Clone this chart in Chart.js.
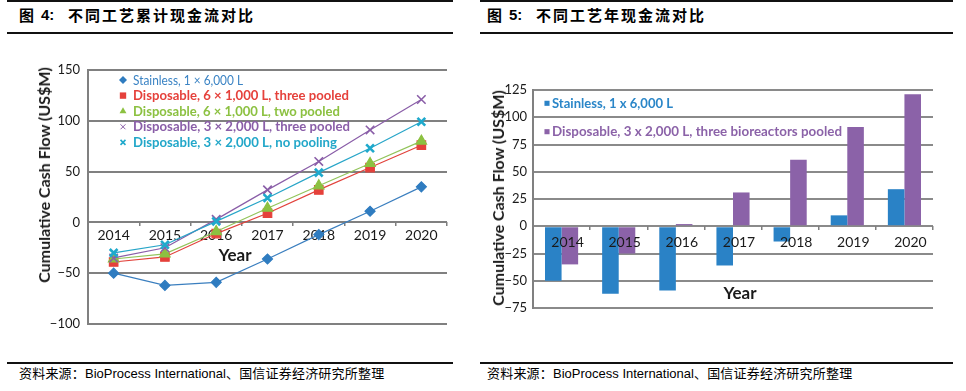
<!DOCTYPE html>
<html><head><meta charset="utf-8">
<script src="https://cdn.jsdelivr.net/npm/chart.js@4.4.0/dist/chart.umd.min.js"></script>
<style>
html,body{margin:0;padding:0;background:#fff;}
body{width:966px;height:391px;position:relative;overflow:hidden;}
.hl{position:absolute;background:#111;}
.t{position:absolute;font-family:"Noto Sans CJK SC",sans-serif;font-weight:700;font-size:15px;color:#000;white-space:nowrap;line-height:20px;}
.tn{position:absolute;font-family:"Liberation Sans",Arial,sans-serif;font-weight:700;font-size:15px;color:#000;white-space:nowrap;line-height:20px;}
.src{position:absolute;font-family:"Noto Sans CJK SC",sans-serif;font-size:13px;letter-spacing:0.2px;color:#000;white-space:nowrap;line-height:16px;}
.src span{font-family:"Liberation Sans",Arial,sans-serif;letter-spacing:0;}
canvas{position:absolute;}
.yt{position:absolute;font-family:Lato,sans-serif;font-weight:700;font-size:16px;color:#1a1a1a;white-space:nowrap;transform:translate(-50%,-50%) rotate(-90deg);line-height:18px;}
.xt{position:absolute;font-family:Lato,sans-serif;font-weight:700;font-size:17px;color:#1a1a1a;white-space:nowrap;transform:translate(-50%,-50%);line-height:20px;}
</style>
</head><body>
<div class="hl" style="left:7px;top:0;width:446px;height:2px"></div>
<div class="hl" style="left:7px;top:32px;width:446px;height:2px"></div>
<div class="hl" style="left:480px;top:0;width:473px;height:2px"></div>
<div class="hl" style="left:480px;top:32px;width:473px;height:2px"></div>
<div class="t" style="left:19px;top:5px">图</div>
<div class="tn" style="left:41px;top:5px">4:</div>
<div class="t" style="left:68px;top:5px;letter-spacing:2px">不同工艺累计现金流对比</div>
<div class="t" style="left:487px;top:5px">图</div>
<div class="tn" style="left:509px;top:5px">5:</div>
<div class="t" style="left:536px;top:5px;letter-spacing:2px">不同工艺年现金流对比</div>

<canvas id="c1" width="470" height="310" style="left:0;top:40px;width:470px;height:310px"></canvas>
<canvas id="c2" width="486" height="310" style="left:480px;top:40px;width:486px;height:310px"></canvas>

<div class="yt" style="left:44px;top:175px">Cumulative Cash Flow (US$M)</div>
<div class="xt" style="left:235px;top:255px">Year</div>
<div class="yt" style="left:498px;top:198px">Cumulative Cash Flow (US$M)</div>
<div class="xt" style="left:740px;top:293px">Year</div>

<div class="hl" style="left:7px;top:362px;width:446px;height:1.5px"></div>
<div class="hl" style="left:480px;top:362px;width:473px;height:1.5px"></div>
<div class="src" style="left:19px;top:365px">资料来源：<span>BioProcess International</span>、国信证券经济研究所整理</div>
<div class="src" style="left:487px;top:365px">资料来源：<span>BioProcess International</span>、国信证券经济研究所整理</div>

<script>
// ---- data ----
const years = ['2014', '2015', '2016', '2017', '2018', '2019', '2020'];

const cumStainless       = [-50, -62, -59, -36, -12, 11, 35];
const cumDisp6x1000Three = [-39, -34, -11, 9, 32, 54, 76];
const cumDisp6x1000Two   = [-36, -31, -9, 14, 36, 58, 80];
const cumDisp3x2000Three = [-35, -25, 3, 32, 60, 91, 121];
const cumDisp3x2000None  = [-30, -22, 1, 24, 49, 73, 99];

const barStainless  = [-50, -62, -59, -36, -14, 10, 34];
const barDisp3x2000 = [-35, -25, 2, 31, 61, 91, 121];

const leftYTicks  = [-100, -50, 0, 50, 100, 150];
const rightYTicks = [-75, -50, -25, 0, 25, 50, 75, 100, 125];

const lineLabels = [
  'Stainless, 1 \u00d7 6,000 L',
  'Disposable, 6 \u00d7 1,000 L, three pooled',
  'Disposable, 6 \u00d7 1,000 L, two pooled',
  'Disposable, 3 \u00d7 2,000 L, three pooled',
  'Disposable, 3 \u00d7 2,000 L, no pooling'
];
const barLabels = [
  'Stainless, 1 x 6,000 L',
  'Disposable, 3 x 2,000 L, three bioreactors pooled'
];

// ---- styles ----
const minus = v => String(v).replace('-', '\u2212');

const inLegend = {
  id: 'inLegend',
  afterDatasetsDraw(chart, args, o) {
    if (!o || !o.items) return;
    const ctx = chart.ctx;
    chart.data.datasets.forEach((ds, i) => {
      const it = o.items[i];
      const y = o.y + i * o.dy;
      ctx.save();
      ctx.fillStyle = ds.pointBackgroundColor || ds.backgroundColor;
      ctx.strokeStyle = ds.pointBorderColor || ds.borderColor || ds.backgroundColor;
      ctx.lineWidth = it.mw;
      Chart.helpers.drawPoint(ctx, {pointStyle: it.ms, radius: it.mr, borderWidth: it.mw, rotation: 0}, o.mx, y);
      ctx.restore();
      ctx.save();
      ctx.font = it.font;
      ctx.fillStyle = it.color;
      ctx.textBaseline = 'middle';
      ctx.textAlign = 'left';
      const w = ctx.measureText(ds.label).width;
      ctx.translate(o.tx, y);
      ctx.scale(it.w / w, 1);
      ctx.fillText(ds.label, 0, 0);
      ctx.restore();
    });
  }
};

const tickFont = {family: 'Lato', size: 13};
const yearFont = {family: 'Lato', size: 14};

new Chart(document.getElementById('c1'), {
  type: 'line',
  data: {
    labels: years,
    datasets: [
      {label: lineLabels[0], data: cumStainless, borderColor: '#3b7fbf', backgroundColor: '#2f7cc0', pointBackgroundColor: '#2f7cc0', pointBorderColor: '#2f7cc0', pointStyle: 'rectRot', pointRadius: 5, borderWidth: 1.2, order: 5},
      {label: lineLabels[1], data: cumDisp6x1000Three, borderColor: '#e2433c', backgroundColor: '#e5413b', pointBackgroundColor: '#e5413b', pointBorderColor: '#e5413b', pointStyle: 'rect', pointRadius: 6, borderWidth: 1.2, order: 4},
      {label: lineLabels[2], data: cumDisp6x1000Two, borderColor: '#92c45a', backgroundColor: '#8cc141', pointBackgroundColor: '#8cc141', pointBorderColor: '#8cc141', pointStyle: 'triangle', pointRadius: 6, borderWidth: 1.2, order: 3},
      {label: lineLabels[3], data: cumDisp3x2000Three, borderColor: '#8a5ea8', backgroundColor: '#8a5ea8', pointBackgroundColor: '#8a5ea8', pointBorderColor: '#8a5ea8', pointStyle: 'crossRot', pointRadius: 6, pointBorderWidth: 1.6, borderWidth: 1.2, order: 2},
      {label: lineLabels[4], data: cumDisp3x2000None, borderColor: '#27a5c8', backgroundColor: '#1fa9cc', pointBackgroundColor: '#1fa9cc', pointBorderColor: '#1fa9cc', pointStyle: 'crossRot', pointRadius: 5.5, pointBorderWidth: 2.6, borderWidth: 1.2, order: 1}
    ]
  },
  options: {
    responsive: false, animation: false, devicePixelRatio: 1,
    layout: {padding: {left: 0, top: 30, right: 23, bottom: 26}},
    plugins: {
      legend: {display: false}, tooltip: {enabled: false},
      inLegend: {
        mx: 123, tx: 133, y: 40, dy: 15.6,
        items: [
          {ms: 'rectRot', mr: 4, mw: 0, font: '400 14px Lato', color: '#3a83c4', w: 110},
          {ms: 'rect', mr: 4.5, mw: 0, font: '700 14px Lato', color: '#e5413b', w: 216},
          {ms: 'triangle', mr: 4, mw: 0, font: '700 14px Lato', color: '#8cc141', w: 207},
          {ms: 'crossRot', mr: 3.5, mw: 1, font: '700 14px Lato', color: '#8a5ea8', w: 217},
          {ms: 'crossRot', mr: 3.5, mw: 1.6, font: '700 14px Lato', color: '#22a7c9', w: 204}
        ]
      }
    },
    scales: {
      x: {
        type: 'category', position: {y: 0}, offset: true,
        grid: {display: true, drawOnChartArea: false, drawTicks: true, tickLength: 4, color: '#7f7f7f', lineWidth: 1.5, offset: true},
        border: {display: false},
        ticks: {font: yearFont, color: '#1a1a1a', padding: 1, maxRotation: 0, autoSkip: false}
      },
      y: {
        min: -100, max: 150,
        afterBuildTicks: s => { s.ticks = leftYTicks.map(v => ({value: v})); },
        afterFit: s => { s.width = 88; },
        grid: {color: '#808080', lineWidth: 2, drawTicks: false},
        border: {display: true, color: '#808080', width: 2},
        ticks: {padding: 8, font: tickFont, color: '#1a1a1a', callback: v => minus(v)}
      }
    }
  },
  plugins: [inLegend]
});

new Chart(document.getElementById('c2'), {
  type: 'bar',
  data: {
    labels: years,
    datasets: [
      {label: barLabels[0], data: barStainless, backgroundColor: '#2a82c6', borderWidth: 0},
      {label: barLabels[1], data: barDisp3x2000, backgroundColor: '#8b62a8', borderWidth: 0}
    ]
  },
  options: {
    responsive: false, animation: false, devicePixelRatio: 1,
    layout: {padding: {left: 0, top: 50, right: 33, bottom: 42}},
    datasets: {bar: {categoryPercentage: 0.58, barPercentage: 1.0}},
    plugins: {
      legend: {display: false}, tooltip: {enabled: false},
      inLegend: {
        mx: 67, tx: 72, y: 63.3, dy: 28.4,
        items: [
          {ms: 'rect', mr: 3.6, mw: 0, font: '700 14px Lato', color: '#2a86c8', w: 121},
          {ms: 'rect', mr: 3.6, mw: 0, font: '700 14px Lato', color: '#8b62a8', w: 290}
        ]
      }
    },
    scales: {
      x: {
        type: 'category', position: {y: 0}, offset: true,
        grid: {display: true, drawOnChartArea: false, drawTicks: true, tickLength: 4, color: '#7f7f7f', lineWidth: 1.5, offset: true, z: 1},
        border: {display: false},
        ticks: {font: yearFont, color: '#1a1a1a', padding: 4, labelOffset: 6, maxRotation: 0, autoSkip: false, z: 1}
      },
      y: {
        min: -75, max: 125,
        afterBuildTicks: s => { s.ticks = rightYTicks.map(v => ({value: v})); },
        afterFit: s => { s.width = 53; },
        grid: {color: '#8a8a8a', lineWidth: 2, drawTicks: false},
        border: {display: true, color: '#808080', width: 2},
        ticks: {padding: 6, font: tickFont, color: '#1a1a1a', callback: v => minus(v)}
      }
    }
  },
  plugins: [inLegend]
});
</script>
</body></html>
